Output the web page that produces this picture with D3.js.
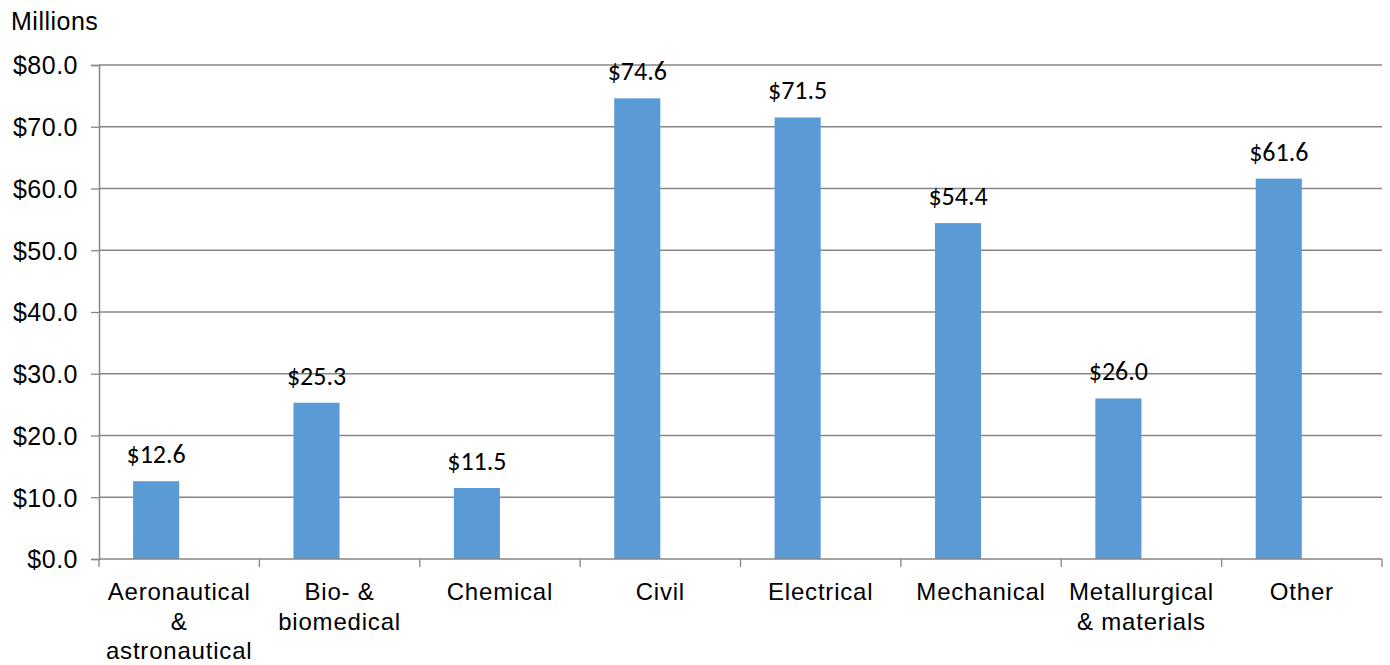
<!DOCTYPE html>
<html><head><meta charset="utf-8">
<script src="https://cdn.jsdelivr.net/npm/d3@7/dist/d3.min.js"></script>
<style>body{margin:0;background:#fff;} svg{display:block;}</style>
</head><body>
<svg id="c" width="1390" height="665"></svg>
<script>
const categories = [
  ["Aeronautical","&","astronautical"],
  ["Bio- &","biomedical"],
  ["Chemical"],
  ["Civil"],
  ["Electrical"],
  ["Mechanical"],
  ["Metallurgical","& materials"],
  ["Other"]
];
const values = [12.6, 25.3, 11.5, 74.6, 71.5, 54.4, 26.0, 61.6];
const yTicks = [0, 10, 20, 30, 40, 50, 60, 70, 80];
const seriesKeys = ["value", "blank"];

const svg = d3.select("#c");
const L = 99, R = 1382, T = 65, B = 559;
const keys = categories.map((c, i) => i);
const x = d3.scaleBand().domain(keys).range([L, R]).paddingInner(0).paddingOuter(0);
const xs = d3.scaleBand().domain(seriesKeys).range([0, x.bandwidth()])
  .paddingInner(0).paddingOuter(0.74);
const y = d3.scaleLinear().domain([0, 80]).range([B, T]);
const axisCol = "#868686";
const fontA = "'Liberation Sans', Arial, sans-serif";

// grid
svg.append("g").selectAll("line").data(yTicks.filter(d => d > 0)).join("line")
  .attr("x1", L).attr("x2", R).attr("y1", d => y(d)).attr("y2", d => y(d))
  .attr("stroke", axisCol).attr("stroke-width", 1.3);

// y axis
const ya = svg.append("g").attr("transform", `translate(${L},0)`)
  .call(d3.axisLeft(y).tickValues(yTicks).tickSize(8).tickPadding(13).tickFormat(d => "$" + d.toFixed(1)));
ya.select(".domain").attr("stroke", axisCol).attr("stroke-width", 1.5);
ya.selectAll(".tick line").attr("stroke", axisCol).attr("stroke-width", 1.3);
ya.selectAll("text").attr("font-family", fontA).attr("font-size", 25).attr("letter-spacing", 0.5)
  .attr("fill", "#000").attr("dy", "0.35em");

// bars
svg.append("g").selectAll("rect").data(values).join("rect")
  .attr("x", (d, i) => x(i) + xs("value"))
  .attr("width", xs.bandwidth())
  .attr("y", d => y(d)).attr("height", d => y(0) - y(d))
  .attr("fill", "#5B9BD5");

// x axis
svg.append("line").attr("x1", L).attr("x2", R).attr("y1", B).attr("y2", B)
  .attr("stroke", axisCol).attr("stroke-width", 1.5);
svg.append("g").selectAll("line").data(d3.range(categories.length + 1)).join("line")
  .attr("x1", i => L + i * x.bandwidth()).attr("x2", i => L + i * x.bandwidth())
  .attr("y1", B).attr("y2", B + 8).attr("stroke", axisCol).attr("stroke-width", 1.3);

// x labels
const xl = svg.append("g").selectAll("text").data(categories).join("text")
  .attr("text-anchor", "middle").attr("font-family", fontA).attr("font-size", 24)
  .attr("letter-spacing", 0.8).attr("fill", "#000");
xl.each(function(lines, i) {
  d3.select(this).selectAll("tspan").data(lines).join("tspan")
    .attr("x", x(i) + x.bandwidth() / 2)
    .attr("y", (d, j) => 600 + j * 29.5)
    .text(d => d);
});

// value labels
svg.append("g").selectAll("text").data(values).join("text")
  .attr("x", (d, i) => x(i) + xs("value") + xs.bandwidth() / 2)
  .attr("y", d => y(d) - 18)
  .attr("text-anchor", "middle")
  .attr("font-family", "Carlito, Calibri, Lato, sans-serif").attr("font-size", 26)
  .attr("fill", "#000")
  .text(d => "$" + d.toFixed(1));

// units label
svg.append("text").attr("x", 11).attr("y", 30).attr("font-family", fontA)
  .attr("font-size", 25).attr("letter-spacing", 0.5).attr("fill", "#000").text("Millions");
</script>
</body></html>
